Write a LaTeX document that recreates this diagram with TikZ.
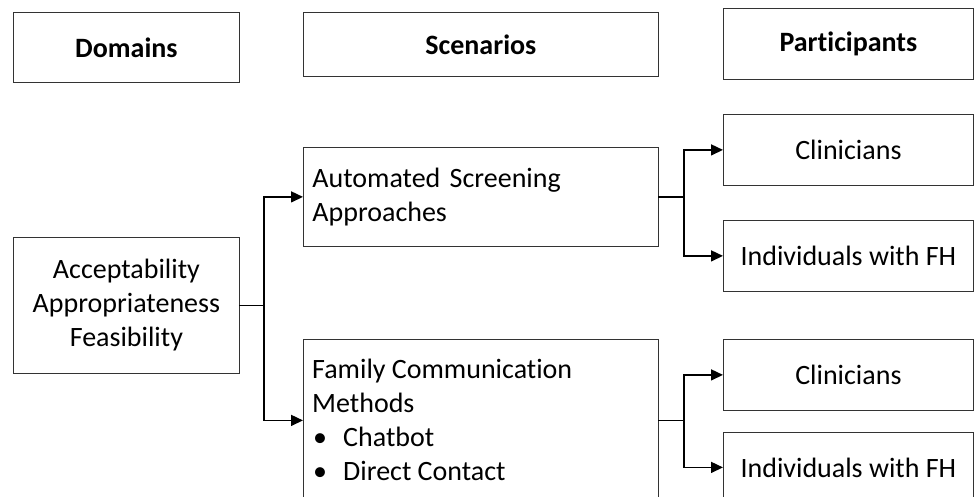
\documentclass[tikz,border=0pt]{standalone}
\usepackage{fontspec}
\setmainfont[Ligatures={NoCommon}]{Carlito}
\usetikzlibrary{arrows.meta}
\begin{document}
\begin{tikzpicture}[x=1pt,y=-1pt,
  txt/.style={font=\fontsize{28}{34}\selectfont},
  box/.style={draw=black!80, line width=0.8pt, inner sep=0pt, anchor=north west, txt},
  hdr/.style={box, font=\fontsize{28}{34}\selectfont\bfseries},
  plain/.style={line width=1.5pt, line cap=rect},
  conn/.style={line width=1.5pt, -{Triangle[length=12pt,width=11pt]}}]
\useasboundingbox (0,0) rectangle (974,497);
\clip (0,0) rectangle (974,497);

% headers
\node[hdr, minimum width=226pt, minimum height=70pt] (dom) at (13,12) {Domains};
\node[hdr, minimum width=355pt, minimum height=64pt] (scen) at (303,12) {Scenarios};
\node[hdr, minimum width=250pt, minimum height=71pt] (part) at (723,8) {Participants};

% domains
\node[box, minimum width=226pt, minimum height=136pt, align=center] (acc) at (13,237)
  {Acceptability\\Appropriateness\\Feasibility};

% scenarios
\node[box, minimum width=355pt, minimum height=99pt, text width=337pt, inner xsep=9pt, align=left] (auto) at (303,147)
  {Automated Screening\\Approaches};
\node[box, minimum width=355pt, minimum height=162pt] (fam) at (303,339) {};
\node[txt, anchor=north west, inner sep=0pt, align=left] (famtext) at (312,359)
  {Family Communication\\Methods\\
   \makebox[31pt][l]{\hspace{1pt}\textbullet}Chatbot\\
   \makebox[31pt][l]{\hspace{1pt}\textbullet}Direct Contact};

% participants
\node[box, minimum width=250pt, minimum height=71pt] (clin1) at (723,114) {Clinicians};
\node[box, minimum width=250pt, minimum height=71pt] (ind1) at (723,220) {Individuals with FH};
\node[box, minimum width=250pt, minimum height=71pt] (clin2) at (723,339) {Clinicians};
\node[box, minimum width=250pt, minimum height=70pt] (ind2) at (723,432) {Individuals with FH};

% connectors
\draw[plain] (acc.east) -- ++(24,0) coordinate (j1);
\draw[conn] (j1) |- (auto.west);
\draw[conn] (j1) |- (fam.west);

\draw[plain] (auto.east) -- ++(25,0) coordinate (j2);
\draw[conn] (j2) |- (clin1.west);
\draw[conn] (j2) |- (ind1.west);

\draw[plain] (fam.east) -- ++(25,0) coordinate (j3);
\draw[conn] (j3) |- (clin2.west);
\draw[conn] (j3) |- (ind2.west);
\end{tikzpicture}
\end{document}
